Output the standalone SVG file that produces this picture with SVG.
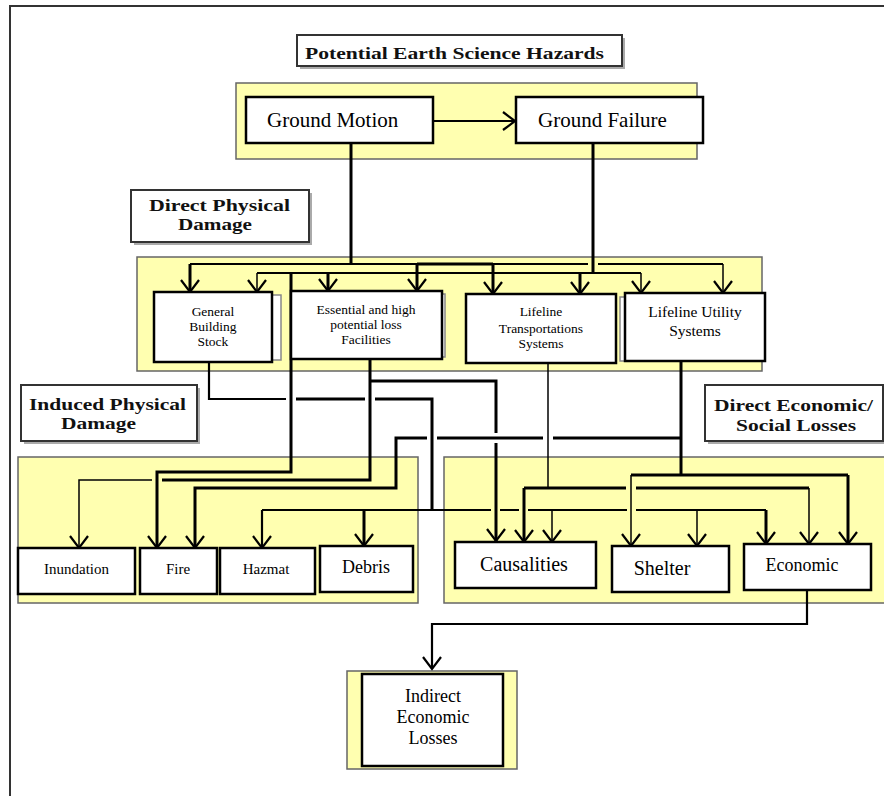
<svg xmlns="http://www.w3.org/2000/svg" width="884" height="796" viewBox="0 0 884 796">
<defs>
<style>
.frame{fill:none;stroke:#333;stroke-width:2}
.cont{fill:#ffffb0;stroke:#666;stroke-width:1.5}
.box{fill:#fff;stroke:#000;stroke-width:2.5}
.back{fill:#fff;stroke:#888;stroke-width:1.5}
.lbl{fill:#fff;stroke:#333;stroke-width:2}
.shd{fill:#aaa;stroke:none}
.t{font-family:"Liberation Serif","Times New Roman",serif;fill:#000}
.b{font-family:"Liberation Serif","Times New Roman",serif;font-weight:bold;fill:#111}
.k{stroke-width:3}
.m{stroke-width:2.2}
.n{stroke-width:1.5}
</style>
<marker id="arr" viewBox="0 0 20 20" refX="14" refY="10" markerWidth="20" markerHeight="20" markerUnits="userSpaceOnUse" orient="auto">
<path d="M2,1 L14,10 L2,19" fill="none" stroke="#000" stroke-width="2.2"/>
</marker>
</defs>
<rect x="0" y="0" width="884" height="796" fill="#fff"/>
<path class="frame" d="M10,796 V6 H884"/>

<g id="containers">
<rect id="c-hazards" class="cont" x="236" y="83" width="461" height="76"/>
<rect id="c-direct" class="cont" x="137" y="257" width="625" height="114"/>
<rect id="c-induced" class="cont" x="18" y="457" width="400" height="146"/>
<rect id="c-econ" class="cont" x="444" y="457" width="445" height="146"/>
<rect id="c-indirect" class="cont" x="347" y="671" width="170" height="98"/>
</g>

<g id="connectors" fill="none" stroke="#000">
<path class="m" d="M433,121 H515" marker-end="url(#arr)"/>
<path class="k" d="M351,143 V264"/>
<path class="k" d="M593,143 V273"/>
<path class="m" d="M190,264 H417"/>
<path class="k" d="M417,264 H493"/>
<path class="m" d="M493,264 H588 M598,264 H723"/>
<path class="k" d="M190,264 V292" marker-end="url(#arr)"/>
<path class="k" d="M417,264 V291" marker-end="url(#arr)"/>
<path class="k" d="M493,264 V294" marker-end="url(#arr)"/>
<path class="n" d="M723,264 V293" marker-end="url(#arr)"/>
<path class="m" d="M257,273 H641"/>
<path class="n" d="M257,273 V292" marker-end="url(#arr)"/>
<path class="k" d="M328,273 V291" marker-end="url(#arr)"/>
<path class="k" d="M580,273 V294" marker-end="url(#arr)"/>
<path class="n" d="M641,273 V293" marker-end="url(#arr)"/>

<path class="m" d="M209,362 V399 H286"/>
<path class="k" d="M296,399 H365 M375,399 H432 V510"/>
<path class="m" d="M262,510 H491 M500,510 H519 M528,510 H627 M636,510 H766"/>
<path class="m" d="M262,510 V548" marker-end="url(#arr)"/>
<path class="k" d="M364,510 V546" marker-end="url(#arr)"/>
<path class="n" d="M552,510 V542" marker-end="url(#arr)"/>
<path class="n" d="M697,510 V546" marker-end="url(#arr)"/>
<path class="k" d="M766,510 V544" marker-end="url(#arr)"/>

<path class="k" d="M370,359 V480 H162"/>
<path class="n" d="M152,480 H79 V548" marker-end="url(#arr)"/>
<path class="k" d="M370,381 H496 V433 M496,443 V541" marker-end="url(#arr)"/>
<path class="k" d="M291,273 V472 H157 V548" marker-end="url(#arr)"/>

<path class="k" d="M681,361 V475"/>
<path class="k" d="M681,438 H553 M543,438 H437 M427,438 H396 V488 H195 V548" marker-end="url(#arr)"/>
<path class="k" d="M631,475 H848"/>
<path class="n" d="M631,475 V546" marker-end="url(#arr)"/>
<path class="k" d="M848,475 V544" marker-end="url(#arr)"/>

<path class="n" d="M548,363 V488"/>
<path class="k" d="M524,488 H626 M636,488 H809"/>
<path class="k" d="M524,488 V542" marker-end="url(#arr)"/>
<path class="n" d="M809,488 V544" marker-end="url(#arr)"/>

<path class="m" d="M807,590 V624 H432 V669" marker-end="url(#arr)"/>
</g>

<g id="lbl-hazards">
<rect class="shd" x="300" y="38" width="325" height="31"/>
<rect class="lbl" x="297" y="35" width="325" height="31"/>
<text class="b" x="305" y="59" font-size="17" textLength="299" lengthAdjust="spacingAndGlyphs">Potential Earth Science Hazards</text>
</g>
<g id="lbl-direct">
<rect class="shd" x="134" y="193" width="178" height="52"/>
<rect class="lbl" x="131" y="190" width="178" height="52"/>
<text class="b" x="149" y="211" font-size="17" textLength="141" lengthAdjust="spacingAndGlyphs">Direct Physical</text>
<text class="b" x="178" y="230" font-size="17" textLength="74" lengthAdjust="spacingAndGlyphs">Damage</text>
</g>
<g id="lbl-induced">
<rect class="shd" x="24" y="388" width="176" height="56"/>
<rect class="lbl" x="21" y="385" width="176" height="56"/>
<text class="b" x="29" y="410" font-size="17.5" textLength="157" lengthAdjust="spacingAndGlyphs">Induced Physical</text>
<text class="b" x="61" y="429" font-size="17.5" textLength="75" lengthAdjust="spacingAndGlyphs">Damage</text>
</g>
<g id="lbl-econ">
<rect class="shd" x="708" y="388" width="178" height="56"/>
<rect class="lbl" x="705" y="385" width="178" height="56"/>
<text class="b" x="714" y="411" font-size="17" textLength="159" lengthAdjust="spacingAndGlyphs">Direct Economic/</text>
<text class="b" x="736" y="431" font-size="17" textLength="120" lengthAdjust="spacingAndGlyphs">Social Losses</text>
</g>

<g id="n-ground-motion">
<rect class="box" x="246" y="97" width="187" height="46"/>
<text class="t" x="267" y="127" font-size="21">Ground Motion</text>
</g>
<g id="n-ground-failure">
<rect class="box" x="516" y="97" width="187" height="46"/>
<text class="t" x="538" y="127" font-size="21">Ground Failure</text>
</g>

<g id="n-gbs">
<rect class="back" x="162" y="295" width="119" height="65"/>
<rect class="box" x="154" y="292" width="118" height="70"/>
<text class="t" font-size="13.5" text-anchor="middle"><tspan x="213" y="316">General</tspan><tspan x="213" y="331">Building</tspan><tspan x="213" y="346">Stock</tspan></text>
</g>
<g id="n-essential">
<rect class="back" x="296" y="294" width="149" height="63"/>
<rect class="box" x="291" y="291" width="151" height="68"/>
<text class="t" font-size="13.5" text-anchor="middle"><tspan x="366" y="314">Essential and high</tspan><tspan x="366" y="329">potential loss</tspan><tspan x="366" y="344">Facilities</tspan></text>
</g>
<g id="n-transport">
<rect class="box" x="466" y="294" width="150" height="69"/>
<text class="t" font-size="13.5" text-anchor="middle"><tspan x="541" y="316">Lifeline</tspan><tspan x="541" y="333">Transportations</tspan><tspan x="541" y="348">Systems</tspan></text>
</g>
<g id="n-utility">
<rect class="back" x="620" y="297" width="140" height="64"/>
<rect class="box" x="625" y="293" width="140" height="68"/>
<text class="t" font-size="15.5" text-anchor="middle"><tspan x="695" y="317">Lifeline Utility</tspan><tspan x="695" y="336">Systems</tspan></text>
</g>

<g id="n-inundation">
<rect class="box" x="18" y="548" width="117" height="46"/>
<text class="t" x="76.5" y="574" font-size="15" text-anchor="middle">Inundation</text>
</g>
<g id="n-fire">
<rect class="box" x="140" y="548" width="77" height="46"/>
<text class="t" x="178" y="574" font-size="15" text-anchor="middle">Fire</text>
</g>
<g id="n-hazmat">
<rect class="box" x="220" y="548" width="95" height="46"/>
<text class="t" x="266" y="574" font-size="15" text-anchor="middle">Hazmat</text>
</g>
<g id="n-debris">
<rect class="box" x="320" y="546" width="93" height="46"/>
<text class="t" x="366" y="573" font-size="18" text-anchor="middle">Debris</text>
</g>
<g id="n-causalities">
<rect class="box" x="455" y="542" width="141" height="46"/>
<text class="t" x="524" y="571" font-size="20" text-anchor="middle">Causalities</text>
</g>
<g id="n-shelter">
<rect class="box" x="612" y="546" width="117" height="46"/>
<text class="t" x="662" y="575" font-size="20" text-anchor="middle">Shelter</text>
</g>
<g id="n-economic">
<rect class="box" x="744" y="544" width="127" height="46"/>
<text class="t" x="802" y="571" font-size="18" text-anchor="middle">Economic</text>
</g>
<g id="n-indirect">
<rect class="box" x="362" y="674" width="141" height="92"/>
<text class="t" font-size="18" text-anchor="middle"><tspan x="433" y="702">Indirect</tspan><tspan x="433" y="723">Economic</tspan><tspan x="433" y="744">Losses</tspan></text>
</g>
</svg>
